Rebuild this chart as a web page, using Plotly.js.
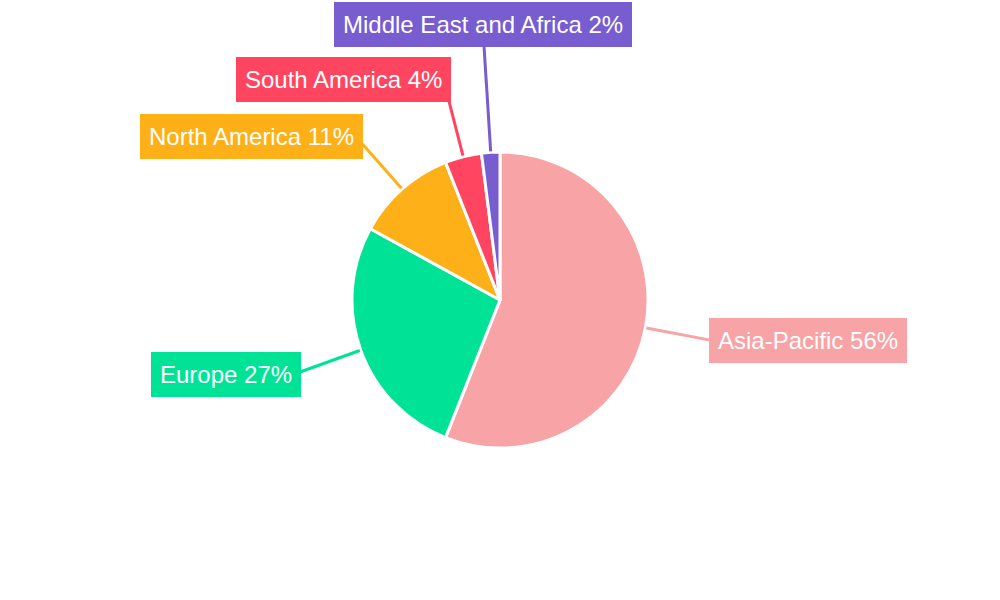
<!DOCTYPE html>
<html>
<head>
<meta charset="utf-8">
<script src="https://cdn.plot.ly/plotly-3.0.1.min.js"></script>
<style>html,body{margin:0;padding:0;background:#fff;}#chart{width:1000px;height:600px;}</style>
</head>
<body>
<div id="chart"></div>
<script>
// ---- data ----
const regions = ["Asia-Pacific", "Europe", "North America", "South America", "Middle East and Africa"];
const shares = [56, 27, 11, 4, 2];
const colors = ["#F8A3A5", "#00E396", "#FEB019", "#FF4560", "#775DD0"];

// ---- layout config (label placement, px) ----
const W = 1000, H = 600;
const CX = 500, CY = 300, R = 148;
const leaderLen = [66, 66, 60, 58, 110];
const boxCenters = [[808, 340], [226, 374], [251, 136], [343, 80], [483, 24]];

const total = shares.reduce((a, b) => a + b, 0);
const shapes = [], annotations = [];
let cum = 0;
shares.forEach((v, i) => {
  const mid = (cum + v / 2) / total * 2 * Math.PI;
  cum += v;
  const dx = Math.sin(mid), dy = -Math.cos(mid);
  const x0 = CX + (R + 1) * dx, y0 = CY + (R + 1) * dy;
  const x1 = CX + (R + leaderLen[i]) * dx, y1 = CY + (R + leaderLen[i]) * dy;
  shapes.push({
    type: "line", xref: "paper", yref: "paper", layer: "above",
    x0: x0 / W, y0: 1 - y0 / H, x1: x1 / W, y1: 1 - y1 / H,
    line: {color: colors[i], width: 3}
  });
  const pct = Math.round(v / total * 100);
  annotations.push({
    xref: "paper", yref: "paper",
    x: boxCenters[i][0] / W, y: 1 - boxCenters[i][1] / H,
    xanchor: "center", yanchor: "middle",
    showarrow: false,
    text: regions[i] + " " + pct + "%",
    bgcolor: colors[i], borderpad: 9, borderwidth: 0,
    font: {family: "Liberation Sans, Arial, sans-serif", size: 24, color: "#ffffff"}
  });
});

const trace = {
  type: "pie",
  labels: regions,
  values: shares,
  sort: false,
  direction: "clockwise",
  rotation: 0,
  textinfo: "none",
  hoverinfo: "label+percent",
  marker: {colors: colors, line: {color: "#ffffff", width: 3}},
  domain: {x: [0, 1], y: [(H / 2 - R) / H, (H / 2 + R) / H]},
  showlegend: false
};

Plotly.newPlot("chart", [trace], {
  width: W, height: H,
  margin: {l: 0, r: 0, t: 0, b: 0},
  paper_bgcolor: "#ffffff",
  showlegend: false,
  shapes: shapes,
  annotations: annotations
}, {displayModeBar: false, staticPlot: true});
</script>
</body>
</html>
